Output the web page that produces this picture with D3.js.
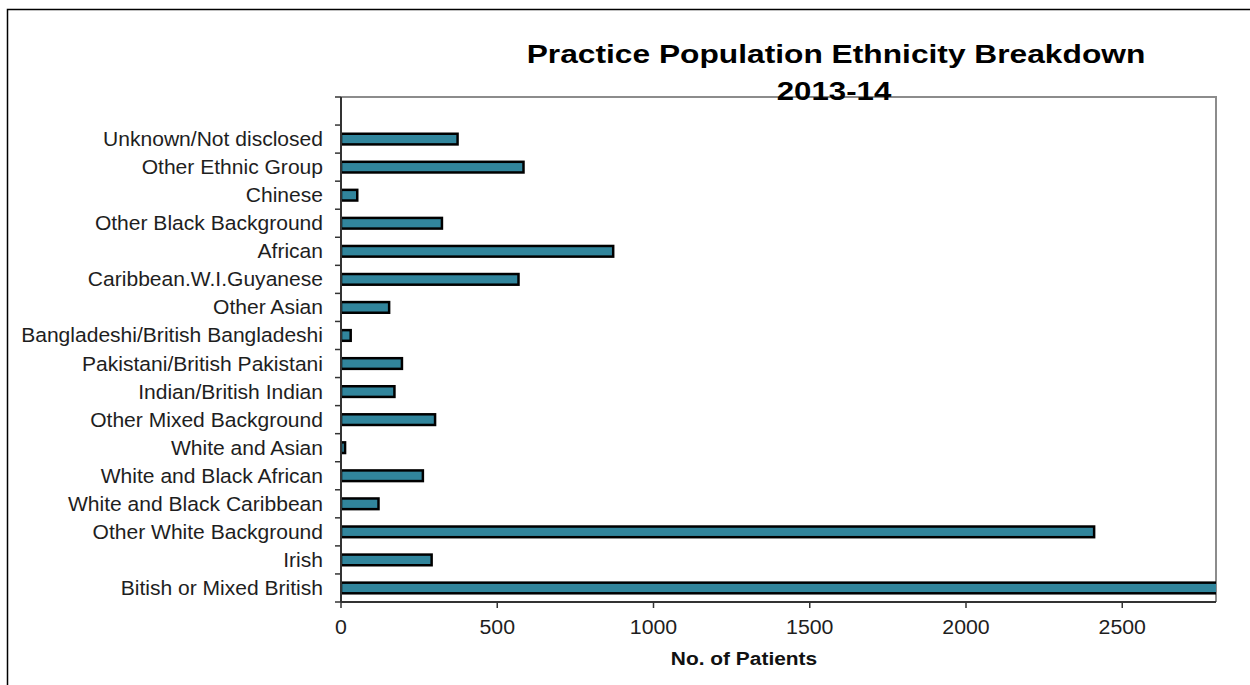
<!DOCTYPE html>
<html>
<head>
<meta charset="utf-8">
<title>Practice Population Ethnicity Breakdown 2013-14</title>
<script src="https://cdnjs.cloudflare.com/ajax/libs/d3/7.8.5/d3.min.js"></script>
<style type="text/css">
    body {
        margin: 0;
        background: #fff;
        font-family: "Liberation Sans", Arial, sans-serif;
    }

    .bar {
        fill: #31859c;
        stroke: #000;
        stroke-width: 2.5;
    }

    .label {
        font-size: 19.5px;
        fill: #1e1e1e;
        text-anchor: end;
    }

    .tick-label {
        font-size: 20.5px;
        fill: #1e1e1e;
        text-anchor: middle;
    }
</style>
</head>
<body>
<script type="text/javascript">

    // categories, top to bottom (first slot of the chart is left empty)
    var categories = [
        "Unknown/Not disclosed",
        "Other Ethnic Group",
        "Chinese",
        "Other Black Background",
        "African",
        "Caribbean.W.I.Guyanese",
        "Other Asian",
        "Bangladeshi/British Bangladeshi",
        "Pakistani/British Pakistani",
        "Indian/British Indian",
        "Other Mixed Background",
        "White and Asian",
        "White and Black African",
        "White and Black Caribbean",
        "Other White Background",
        "Irish",
        "Bitish or Mixed British"
    ];

    // No. of patients, same order as categories
    var patients = [373, 584, 52, 323, 871, 568, 154, 31, 195, 171, 301, 13, 262, 120, 2410, 290, 3000];

    var xTicks = [0, 500, 1000, 1500, 2000, 2500];
    var xMax = 2800;

    var width = 1250,
        height = 685,
        plot = { left: 341, right: 1216, top: 97, bottom: 602 };

    var svg = d3.select("body").append("svg")
        .attr("width", width)
        .attr("height", height);

    // text in the source is drawn a little wider than the font
    function place(px, py, k) {
        return "translate(" + px + "," + py + ") scale(" + k + ",1)";
    }

    // outer border (top and left only)
    svg.append("path")
        .attr("d", "M7.5," + height + "V9.5H" + width)
        .style("fill", "none")
        .style("stroke", "#000")
        .style("stroke-width", 1.5);

    var x = d3.scaleLinear()
        .domain([0, xMax])
        .range([plot.left, plot.right]);

    var slots = [""].concat(categories);

    var y = d3.scaleBand()
        .domain(slots)
        .range([plot.top, plot.bottom])
        .paddingInner(0.62)
        .paddingOuter(0.31);

    // frame: top + right grey
    svg.append("path")
        .attr("d", "M" + plot.left + "," + plot.top + "H" + plot.right + "V" + plot.bottom)
        .style("fill", "none")
        .style("stroke", "#8c8c8c")
        .style("stroke-width", 2);

    svg.append("clipPath")
        .attr("id", "clip")
        .append("rect")
        .attr("x", plot.left)
        .attr("y", plot.top)
        .attr("width", plot.right - plot.left)
        .attr("height", plot.bottom - plot.top);

    var data = categories.map(function (c, i) { return { name: c, value: patients[i] }; });

    svg.append("g")
        .attr("clip-path", "url(#clip)")
        .selectAll("rect")
        .data(data)
        .enter().append("rect")
        .attr("class", "bar")
        .attr("x", x(0))
        .attr("y", function (d) { return y(d.name); })
        .attr("width", function (d) { return x(d.value) - x(0); })
        .attr("height", y.bandwidth());

    // y axis line + ticks between the bands
    var axisColor = "#333";
    svg.append("line")
        .attr("x1", plot.left).attr("x2", plot.left)
        .attr("y1", plot.top).attr("y2", plot.bottom)
        .style("stroke", axisColor)
        .style("stroke-width", 2);

    svg.append("g")
        .selectAll("line")
        .data(d3.range(slots.length + 1))
        .enter().append("line")
        .attr("x1", plot.left - 6).attr("x2", plot.left)
        .attr("y1", function (i) { return plot.top + i * y.step(); })
        .attr("y2", function (i) { return plot.top + i * y.step(); })
        .style("stroke", axisColor)
        .style("stroke-width", 1.5);

    svg.append("g")
        .selectAll("text")
        .data(categories)
        .enter().append("text")
        .attr("class", "label")
        .attr("transform", function (d) { return place(323, y(d) + y.bandwidth() / 2, 1.08); })
        .attr("dy", "0.36em")
        .text(function (d) { return d; });

    // x axis
    svg.append("line")
        .attr("x1", plot.left).attr("x2", plot.right)
        .attr("y1", plot.bottom).attr("y2", plot.bottom)
        .style("stroke", axisColor)
        .style("stroke-width", 2);

    svg.append("g")
        .selectAll("line")
        .data(xTicks)
        .enter().append("line")
        .attr("x1", function (d) { return x(d); })
        .attr("x2", function (d) { return x(d); })
        .attr("y1", plot.bottom)
        .attr("y2", plot.bottom + 6)
        .style("stroke", axisColor)
        .style("stroke-width", 1.5);

    svg.append("g")
        .selectAll("text")
        .data(xTicks)
        .enter().append("text")
        .attr("class", "tick-label")
        .attr("transform", function (d) { return place(x(d), 634, 1.04); })
        .text(function (d) { return d; });

    svg.append("text")
        .attr("transform", place(744, 665, 1.1))
        .attr("text-anchor", "middle")
        .style("font-size", "19px")
        .style("font-weight", "bold")
        .style("fill", "#111")
        .text("No. of Patients");

    // title
    svg.append("text")
        .attr("transform", place(836, 63, 1.22))
        .attr("text-anchor", "middle")
        .style("font-size", "26px")
        .style("font-weight", "bold")
        .style("fill", "#000")
        .text("Practice Population Ethnicity Breakdown");

    svg.append("text")
        .attr("transform", place(834, 100, 1.2))
        .attr("text-anchor", "middle")
        .style("font-size", "26px")
        .style("font-weight", "bold")
        .style("fill", "#000")
        .text("2013-14");

</script>
</body>
</html>
